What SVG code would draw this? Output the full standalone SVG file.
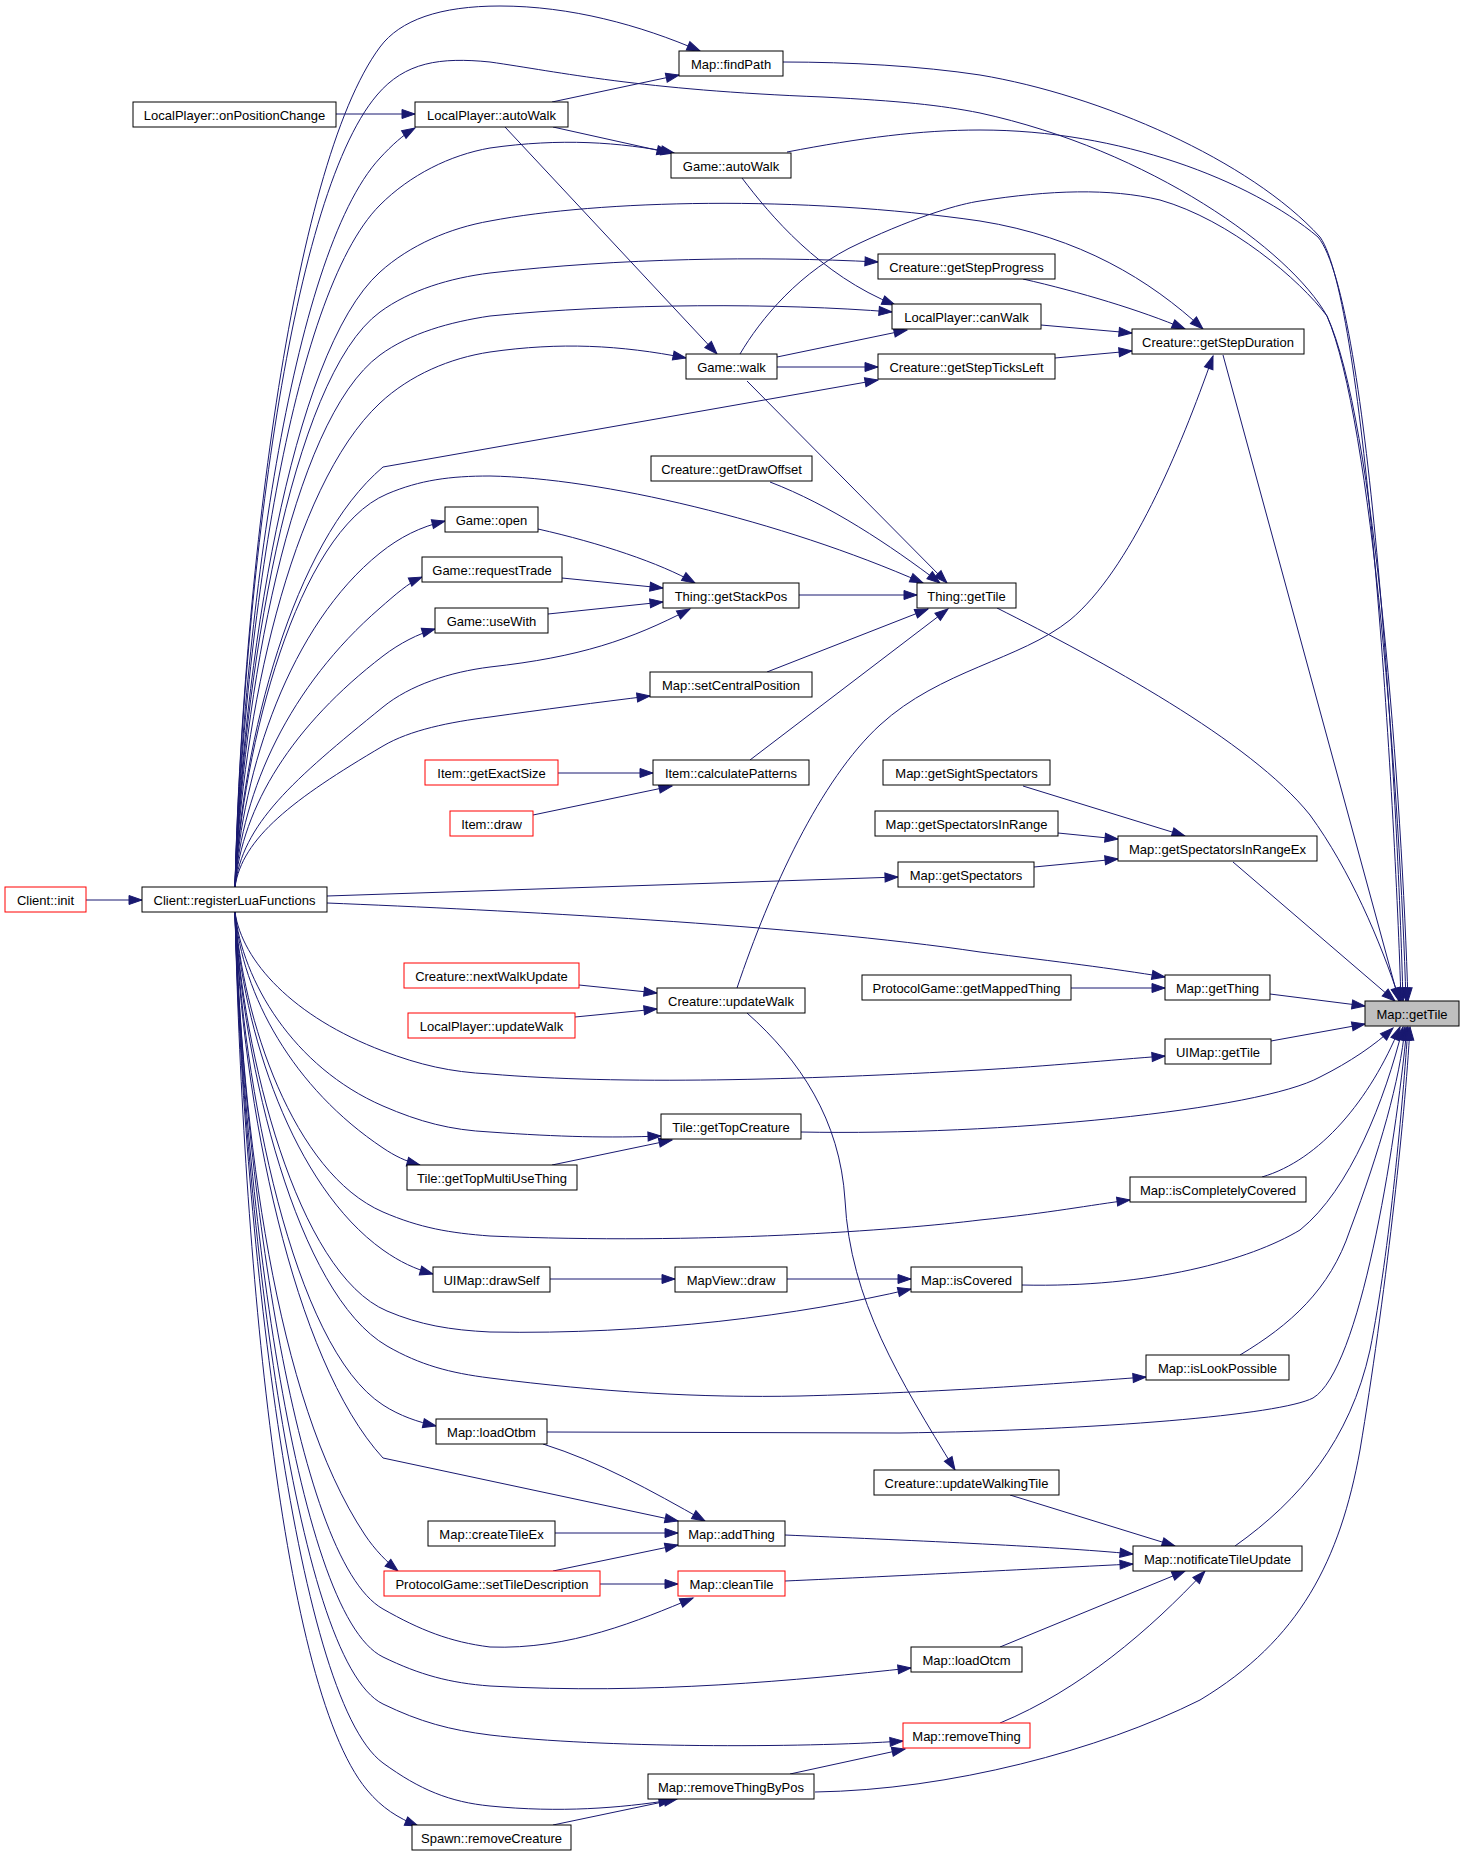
<svg xmlns="http://www.w3.org/2000/svg" width="1464" height="1856" viewBox="0 0 1464 1856">
<style>
.n rect{fill:#fff;stroke:#000;stroke-width:1}
.n.r rect{stroke:#f00}
.n.c rect{fill:#bfbfbf}
.n text{font-family:"Liberation Sans",Arial,sans-serif;font-size:13px;text-anchor:middle;fill:#000}
#edges path{fill:none;stroke:#191970;stroke-width:1;marker-end:url(#a)}
</style>
<defs>
<marker id="a" markerUnits="userSpaceOnUse" markerWidth="14" markerHeight="10" refX="13" refY="5" orient="auto" viewBox="0 0 14 10" overflow="visible"><path d="M0,0.5 L13,5 L0,9.5 z" fill="#191970" stroke="#191970"/></marker>
</defs>
<rect width="1464" height="1856" fill="#fff"/>
<g id="edges">
<path d="M86,900 L142,900"/>
<path d="M336,114 L415,114"/>
<path d="M552,102 L679,75"/>
<path d="M553,127 L670,153"/>
<path d="M505,127 L717,354"/>
<path d="M235,887 C242,593 290,168 380,47 C400,20 440,6 500,6 C570,6 640,25 700,51"/>
<path d="M235,887 C242,610 287,201 377,95 C405,62 440,57 490,62 C560,72 640,90 823,97 C900,101 940,105 980,113 C1150,150 1290,250 1327,316 C1372,420 1400,800 1406,1001"/>
<path d="M235,887 C242,632 290,255 380,158 C392,145 403,135 415,128"/>
<path d="M235,887 C242,648 290,295 380,205 C410,175 450,155 490,148 C560,138 620,142 674,153"/>
<path d="M235,887 C242,672 290,353 380,272 C410,245 450,228 490,221 C600,200 800,195 980,221 C1080,237 1150,280 1203,329"/>
<path d="M235,887 C242,686 290,378 380,312 C410,290 450,278 490,273 C620,258 760,256 878,262"/>
<path d="M235,887 C242,701 290,421 380,355 C410,333 450,322 490,316 C620,303 780,303 892,312"/>
<path d="M235,887 C242,718 290,487 380,403 C410,375 450,358 490,352 C560,342 620,345 686,358"/>
<path d="M235,887 C242,740 293,543 383,467 L878,380"/>
<path d="M235,887 C242,749 297,532 387,494 C420,480 450,476 490,476 C600,478 780,520 923,583"/>
<path d="M235,887 C242,770 290,625 380,553 C400,537 420,527 445,521"/>
<path d="M235,887 C242,789 290,686 380,608 C395,595 408,583 422,577"/>
<path d="M235,887 C242,806 293,725 383,656 C400,643 418,634 435,629"/>
<path d="M235,887 C242,824 293,780 383,707 C410,685 450,672 490,667 C580,657 630,640 690,609"/>
<path d="M235,887 C242,838 293,799 383,746 C410,730 450,722 490,717 C540,710 600,702 650,696"/>
<path d="M327,896 L898,877"/>
<path d="M327,903 C500,910 800,925 980,952 C1060,962 1110,968 1165,977"/>
<path d="M235,912 C242,961 293,1017 383,1051 C420,1065 450,1072 490,1074 C620,1085 800,1080 980,1070 C1050,1066 1110,1060 1165,1056"/>
<path d="M235,912 C242,980 293,1067 383,1106 C420,1122 450,1130 490,1132 C560,1137 610,1138 661,1136"/>
<path d="M235,912 C242,995 293,1088 383,1148 C395,1156 405,1161 420,1165"/>
<path d="M235,912 C242,1017 293,1173 383,1212 C420,1228 450,1233 490,1236 C700,1245 900,1230 980,1220 C1050,1213 1090,1205 1130,1200"/>
<path d="M235,912 C242,1030 293,1186 383,1250 C400,1262 415,1269 433,1274"/>
<path d="M235,912 C242,1052 297,1273 387,1311 C420,1325 450,1330 490,1332 C650,1335 800,1315 911,1289"/>
<path d="M235,912 C242,1064 297,1294 387,1346 C420,1365 450,1373 490,1378 C600,1392 700,1398 800,1396 C950,1392 1050,1384 1146,1377"/>
<path d="M235,912 C242,1085 293,1347 383,1405 C400,1416 418,1422 436,1426"/>
<path d="M235,912 C242,1103 293,1360 383,1458 L678,1521"/>
<path d="M235,912 C242,1130 275,1400 365,1535 C375,1550 387,1562 398,1571"/>
<path d="M235,912 C242,1156 293,1558 383,1609 C420,1630 450,1642 490,1647 C570,1650 640,1620 693,1598"/>
<path d="M235,912 C242,1173 293,1613 383,1657 C420,1675 450,1683 490,1686 C650,1695 800,1680 911,1668"/>
<path d="M235,912 C242,1189 293,1660 383,1704 C420,1722 450,1730 490,1735 C600,1748 800,1748 903,1741"/>
<path d="M235,912 C242,1210 293,1697 383,1763 C420,1790 450,1802 490,1806 C560,1813 620,1808 672,1800"/>
<path d="M235,912 C242,1219 277,1682 367,1790 C382,1808 398,1818 418,1826"/>
<path d="M787,152 C860,138 920,130 980,130 C1120,130 1250,180 1318,237 C1370,300 1398,800 1403,1001"/>
<path d="M783,62 C850,62 920,66 980,75 C1100,95 1250,160 1320,237 C1365,300 1395,800 1401,1001"/>
<path d="M740,354 C760,320 800,270 860,243 C920,215 960,204 980,201 C1050,190 1110,188 1160,200 C1230,220 1300,280 1327,316 C1375,420 1402,800 1408,1001"/>
<path d="M777,357 L907,330"/>
<path d="M777,367 L878,367"/>
<path d="M747,381 L947,583"/>
<path d="M742,178 C770,215 820,275 895,305"/>
<path d="M1023,279 C1080,292 1140,310 1185,329"/>
<path d="M1041,325 L1132,333"/>
<path d="M1055,358 L1132,351"/>
<path d="M737,988 C770,890 820,780 880,725 C940,670 1020,660 1070,620 C1130,570 1180,450 1213,356"/>
<path d="M1223,355 L1399,1001"/>
<path d="M770,482 C830,505 890,545 940,583"/>
<path d="M538,529 C600,543 660,563 695,583"/>
<path d="M562,578 L663,588"/>
<path d="M548,614 L663,602"/>
<path d="M799,595 L917,595"/>
<path d="M767,672 L928,609"/>
<path d="M750,760 L948,609"/>
<path d="M558,773 L653,773"/>
<path d="M533,815 L672,786"/>
<path d="M1023,786 L1185,836"/>
<path d="M1058,833 L1118,839"/>
<path d="M1034,867 L1118,859"/>
<path d="M1233,862 L1395,1001"/>
<path d="M997,608 C1100,660 1250,740 1310,815 C1350,870 1380,940 1400,1001"/>
<path d="M1071,988 L1165,988"/>
<path d="M1270,994 L1365,1006"/>
<path d="M1271,1041 L1365,1024"/>
<path d="M801,1132 C1000,1136 1260,1110 1320,1077 C1350,1062 1375,1045 1393,1028"/>
<path d="M552,1165 L672,1140"/>
<path d="M1262,1177 C1320,1160 1370,1100 1400,1027"/>
<path d="M1022,1285 C1150,1288 1250,1260 1300,1230 C1350,1190 1385,1100 1403,1027"/>
<path d="M1240,1355 C1290,1325 1330,1290 1350,1230 C1380,1150 1400,1080 1405,1027"/>
<path d="M547,1432 L900,1433 C1100,1430 1280,1415 1313,1398 C1360,1370 1395,1150 1407,1027"/>
<path d="M1235,1546 C1300,1500 1350,1440 1370,1350 C1390,1250 1403,1100 1408,1027"/>
<path d="M815,1792 C950,1790 1100,1750 1200,1700 C1300,1640 1340,1560 1360,1450 C1385,1300 1405,1120 1410,1027"/>
<path d="M747,1013 C800,1060 840,1120 845,1200 C850,1300 900,1380 955,1470"/>
<path d="M1010,1495 L1175,1546"/>
<path d="M785,1535 C900,1540 1050,1546 1133,1554"/>
<path d="M785,1581 C900,1576 1050,1568 1133,1564"/>
<path d="M1000,1647 L1185,1571"/>
<path d="M1000,1723 C1080,1690 1150,1630 1205,1571"/>
<path d="M555,1533 L678,1533"/>
<path d="M543,1444 C600,1462 650,1490 705,1521"/>
<path d="M553,1571 L678,1545"/>
<path d="M600,1584 L678,1584"/>
<path d="M790,1774 L905,1749"/>
<path d="M553,1825 L677,1799"/>
<path d="M550,1279 L675,1279"/>
<path d="M787,1279 L911,1279"/>
<path d="M579,985 L657,993"/>
<path d="M575,1017 L657,1009"/>
</g>
<g id="n1" class="n"><rect x="679" y="51" width="104" height="25"/><text x="731" y="69">Map::findPath</text></g>
<g id="n2" class="n"><rect x="133" y="102" width="203" height="25"/><text x="234.5" y="120">LocalPlayer::onPositionChange</text></g>
<g id="n3" class="n"><rect x="415" y="102" width="153" height="25"/><text x="491.5" y="120">LocalPlayer::autoWalk</text></g>
<g id="n4" class="n"><rect x="671" y="153" width="120" height="25"/><text x="731" y="171">Game::autoWalk</text></g>
<g id="n5" class="n"><rect x="878" y="254" width="177" height="25"/><text x="966.5" y="272">Creature::getStepProgress</text></g>
<g id="n6" class="n"><rect x="892" y="304" width="149" height="25"/><text x="966.5" y="322">LocalPlayer::canWalk</text></g>
<g id="n7" class="n"><rect x="1132" y="329" width="172" height="25"/><text x="1218" y="347">Creature::getStepDuration</text></g>
<g id="n8" class="n"><rect x="686" y="354" width="91" height="25"/><text x="731.5" y="372">Game::walk</text></g>
<g id="n9" class="n"><rect x="878" y="354" width="177" height="25"/><text x="966.5" y="372">Creature::getStepTicksLeft</text></g>
<g id="n10" class="n"><rect x="651" y="456" width="161" height="25"/><text x="731.5" y="474">Creature::getDrawOffset</text></g>
<g id="n11" class="n"><rect x="445" y="507" width="93" height="25"/><text x="491.5" y="525">Game::open</text></g>
<g id="n12" class="n"><rect x="422" y="557" width="140" height="25"/><text x="492" y="575">Game::requestTrade</text></g>
<g id="n13" class="n"><rect x="663" y="583" width="136" height="25"/><text x="731" y="601">Thing::getStackPos</text></g>
<g id="n14" class="n"><rect x="917" y="583" width="99" height="25"/><text x="966.5" y="601">Thing::getTile</text></g>
<g id="n15" class="n"><rect x="435" y="608" width="113" height="25"/><text x="491.5" y="626">Game::useWith</text></g>
<g id="n16" class="n"><rect x="650" y="672" width="162" height="25"/><text x="731" y="690">Map::setCentralPosition</text></g>
<g id="n17" class="n r"><rect x="425" y="760" width="133" height="25"/><text x="491.5" y="778">Item::getExactSize</text></g>
<g id="n18" class="n"><rect x="653" y="760" width="156" height="25"/><text x="731" y="778">Item::calculatePatterns</text></g>
<g id="n19" class="n"><rect x="883" y="760" width="167" height="25"/><text x="966.5" y="778">Map::getSightSpectators</text></g>
<g id="n20" class="n r"><rect x="450" y="811" width="83" height="25"/><text x="491.5" y="829">Item::draw</text></g>
<g id="n21" class="n"><rect x="875" y="811" width="183" height="25"/><text x="966.5" y="829">Map::getSpectatorsInRange</text></g>
<g id="n22" class="n"><rect x="1118" y="836" width="199" height="25"/><text x="1217.5" y="854">Map::getSpectatorsInRangeEx</text></g>
<g id="n23" class="n r"><rect x="5" y="887" width="81" height="25"/><text x="45.5" y="905">Client::init</text></g>
<g id="n24" class="n"><rect x="142" y="887" width="185" height="25"/><text x="234.5" y="905">Client::registerLuaFunctions</text></g>
<g id="n25" class="n"><rect x="898" y="862" width="136" height="25"/><text x="966" y="880">Map::getSpectators</text></g>
<g id="n26" class="n r"><rect x="404" y="963" width="175" height="25"/><text x="491.5" y="981">Creature::nextWalkUpdate</text></g>
<g id="n27" class="n"><rect x="657" y="988" width="148" height="25"/><text x="731" y="1006">Creature::updateWalk</text></g>
<g id="n28" class="n r"><rect x="408" y="1013" width="167" height="25"/><text x="491.5" y="1031">LocalPlayer::updateWalk</text></g>
<g id="n29" class="n"><rect x="862" y="975" width="209" height="25"/><text x="966.5" y="993">ProtocolGame::getMappedThing</text></g>
<g id="n30" class="n"><rect x="1165" y="975" width="105" height="25"/><text x="1217.5" y="993">Map::getThing</text></g>
<g id="n31" class="n c"><rect x="1365" y="1001" width="94" height="25"/><text x="1412" y="1019">Map::getTile</text></g>
<g id="n32" class="n"><rect x="1165" y="1039" width="106" height="25"/><text x="1218" y="1057">UIMap::getTile</text></g>
<g id="n33" class="n"><rect x="661" y="1114" width="140" height="25"/><text x="731" y="1132">Tile::getTopCreature</text></g>
<g id="n34" class="n"><rect x="407" y="1165" width="170" height="25"/><text x="492" y="1183">Tile::getTopMultiUseThing</text></g>
<g id="n35" class="n"><rect x="1130" y="1177" width="176" height="25"/><text x="1218" y="1195">Map::isCompletelyCovered</text></g>
<g id="n36" class="n"><rect x="433" y="1267" width="117" height="25"/><text x="491.5" y="1285">UIMap::drawSelf</text></g>
<g id="n37" class="n"><rect x="675" y="1267" width="112" height="25"/><text x="731" y="1285">MapView::draw</text></g>
<g id="n38" class="n"><rect x="911" y="1267" width="111" height="25"/><text x="966.5" y="1285">Map::isCovered</text></g>
<g id="n39" class="n"><rect x="1146" y="1355" width="143" height="25"/><text x="1217.5" y="1373">Map::isLookPossible</text></g>
<g id="n40" class="n"><rect x="436" y="1419" width="111" height="25"/><text x="491.5" y="1437">Map::loadOtbm</text></g>
<g id="n41" class="n"><rect x="874" y="1470" width="185" height="25"/><text x="966.5" y="1488">Creature::updateWalkingTile</text></g>
<g id="n42" class="n"><rect x="428" y="1521" width="127" height="25"/><text x="491.5" y="1539">Map::createTileEx</text></g>
<g id="n43" class="n"><rect x="678" y="1521" width="107" height="25"/><text x="731.5" y="1539">Map::addThing</text></g>
<g id="n44" class="n"><rect x="1133" y="1546" width="169" height="25"/><text x="1217.5" y="1564">Map::notificateTileUpdate</text></g>
<g id="n45" class="n r"><rect x="384" y="1571" width="216" height="25"/><text x="492" y="1589">ProtocolGame::setTileDescription</text></g>
<g id="n46" class="n r"><rect x="678" y="1571" width="107" height="25"/><text x="731.5" y="1589">Map::cleanTile</text></g>
<g id="n47" class="n"><rect x="911" y="1647" width="111" height="25"/><text x="966.5" y="1665">Map::loadOtcm</text></g>
<g id="n48" class="n r"><rect x="903" y="1723" width="127" height="25"/><text x="966.5" y="1741">Map::removeThing</text></g>
<g id="n49" class="n"><rect x="648" y="1774" width="166" height="25"/><text x="731" y="1792">Map::removeThingByPos</text></g>
<g id="n50" class="n"><rect x="412" y="1825" width="159" height="25"/><text x="491.5" y="1843">Spawn::removeCreature</text></g>
</svg>
